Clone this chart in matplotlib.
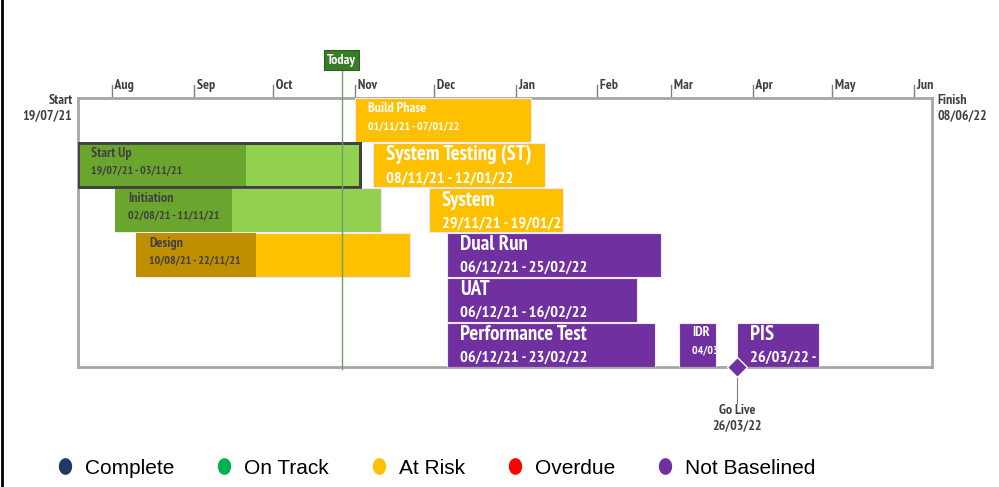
import matplotlib
matplotlib.use("Agg")
import matplotlib.pyplot as plt
import matplotlib.dates as mdates
from matplotlib.lines import Line2D
from matplotlib.path import Path
from datetime import date
import numpy as np

plt.rcParams['font.family'] = ['PT Sans Narrow', 'DejaVu Sans']

# ---- data ----
project_start = date(2021, 7, 19)
project_finish = date(2022, 6, 8)
today = date(2021, 10, 27)

task_names = ["Build Phase", "Start Up", "System Testing (ST)", "Initiation", "System",
              "Design", "Dual Run", "UAT", "Performance Test", "IDR", "PIS"]
task_starts = [date(2021, 11, 1), date(2021, 7, 19), date(2021, 11, 8), date(2021, 8, 2),
               date(2021, 11, 29), date(2021, 8, 10), date(2021, 12, 6), date(2021, 12, 6),
               date(2021, 12, 6), date(2022, 3, 4), date(2022, 3, 26)]
task_ends = [date(2022, 1, 7), date(2021, 11, 3), date(2022, 1, 12), date(2021, 11, 11),
             date(2022, 1, 19), date(2021, 11, 22), date(2022, 2, 25), date(2022, 2, 16),
             date(2022, 2, 23), date(2022, 3, 18), date(2022, 4, 26)]
task_rows = [0, 1, 1, 2, 2, 3, 3, 4, 5, 5, 5]
task_status = ["At Risk", "On Track", "At Risk", "On Track", "At Risk",
               "At Risk", "Not Baselined", "Not Baselined", "Not Baselined", "Not Baselined", "Not Baselined"]
task_progress = [0, 0.595, 0, 0.438, 0, 0.438, 0, 0, 0, 0, 0]
task_big_text = [False, False, True, False, True, False, True, True, True, False, True]

milestone_name = "Go Live"
milestone_date = date(2022, 3, 26)

month_ticks = [date(2021, 8, 1), date(2021, 9, 1), date(2021, 10, 1), date(2021, 11, 1),
               date(2021, 12, 1), date(2022, 1, 1), date(2022, 2, 1), date(2022, 3, 1),
               date(2022, 4, 1), date(2022, 5, 1), date(2022, 6, 1)]

legend_labels = ["Complete", "On Track", "At Risk", "Overdue", "Not Baselined"]

# ---- styles ----
bar_colors = {"On Track": "#92D050", "At Risk": "#FFC000", "Not Baselined": "#7030A0"}
progress_colors = {"On Track": "#6AA62E", "At Risk": "#BF8F00"}
text_colors = {"On Track": "#3F3F3F", "At Risk": "#FFFFFF", "Not Baselined": "#FFFFFF"}
legend_colors = ["#203864", "#00B050", "#FFC000", "#FF0000", "#7030A0"]
frame_color = "#A6A6A6"
today_color = "#387B2A"
dark_text = "#404040"

fig = plt.figure(figsize=(9.99, 4.87), dpi=100)
ax = fig.add_axes([78 / 999, 1 - 367 / 487, 854 / 999, 269 / 487])
ax.set_xlim(mdates.date2num(project_start), mdates.date2num(project_finish))
ax.set_ylim(6, 0)
ax.set_xticks([])
ax.set_yticks([])
for s in ax.spines.values():
    s.set_color(frame_color)
    s.set_linewidth(2)
ax.patch.set_facecolor("white")

# month ticks on top
for m in month_ticks:
    x = mdates.date2num(m)
    ax.plot([x, x], [0, -0.3], color="#808080", lw=1, clip_on=False)
    ax.text(x, -0.13, " " + m.strftime("%b"), ha="left", va="bottom", fontsize=10,
            fontweight="bold", color=dark_text, clip_on=False)

# start / finish labels
ax.annotate("Start\n" + project_start.strftime("%d/%m/%y"), xy=(0, 1), xycoords="axes fraction",
            xytext=(-4, 3), textcoords="offset points", ha="right", va="top", fontsize=10,
            fontweight="bold", color=dark_text, linespacing=1.2)
ax.annotate("Finish\n" + project_finish.strftime("%d/%m/%y"), xy=(1, 1), xycoords="axes fraction",
            xytext=(4, 3), textcoords="offset points", ha="left", va="top", fontsize=10,
            fontweight="bold", color=dark_text, linespacing=1.2)

# bars
for name, s, e, r, st, p, big in zip(task_names, task_starts, task_ends, task_rows,
                                        task_status, task_progress, task_big_text):
    x0 = mdates.date2num(s)
    w = mdates.date2num(e) - x0
    edge = "#404040" if name == "Start Up" else "#F0E8F8"
    lw = 2 if name == "Start Up" else 0.8
    bars = ax.barh(r + 0.5, w, left=x0, height=0.98, color=bar_colors[st],
                   edgecolor=edge, linewidth=lw, zorder=3)
    if p > 0:
        ax.barh(r + 0.5, w * p, left=x0, height=0.98 if name != "Start Up" else 0.94,
                color=progress_colors[st], linewidth=0, zorder=3)
        if name == "Start Up":
            ax.barh(r + 0.5, w, left=x0, height=0.98, facecolor="none",
                    edgecolor=edge, linewidth=lw, zorder=4)
    dates = f"{s:%d/%m/%y} - {e:%d/%m/%y}"
    tcolor = dark_text if st in ("On Track",) or (st == "At Risk" and p > 0) else text_colors[st]
    if big:
        specs = [(name, -12.9, 15), (dates, -28.6, 11.8)]
    else:
        specs = [(name, -10.2, 10), (dates, -22.3, 8.5)]
    for txt, dy, fs in specs:
        t = ax.annotate(txt, xy=(x0, r), xytext=(9.5, dy), textcoords="offset points",
                        ha="left", va="baseline", fontsize=fs, fontweight="bold",
                        color=tcolor, zorder=5)
        t.set_clip_on(True)
        t.set_clip_path(bars[0])

# today marker
tx = mdates.date2num(today)
ax.plot([tx, tx], [-0.68, 6.05], color="#6E9F66", lw=1, clip_on=False, zorder=6)
ax.text(tx, -0.84, "Today", ha="center", va="center", fontsize=10, fontweight="bold",
        color="white", clip_on=False, zorder=7,
        bbox=dict(boxstyle="square,pad=0.25", facecolor=today_color, edgecolor="#2A5E20", lw=0.8))

# milestone
mx = mdates.date2num(milestone_date)
ax.plot([mx, mx], [6, 6.8], color="#808080", lw=0.8, clip_on=False, zorder=5)
ax.plot([mx], [6], marker="D", markersize=10, color="#7030A0", markeredgecolor="white",
        markeredgewidth=1, clip_on=False, zorder=8)
ax.annotate(f"{milestone_name}\n{milestone_date:%d/%m/%y}", xy=(mx, 6.8),
            xytext=(0, -1), textcoords="offset points", ha="center", va="top", fontsize=10,
            fontweight="bold", color=dark_text, linespacing=1.2, annotation_clip=False)

# legend
theta = np.linspace(0, 2 * np.pi, 40)
oval = Path(np.column_stack([0.8 * np.cos(theta), np.sin(theta)]))
handles = [Line2D([], [], linestyle="none", marker=oval, markersize=12, color=c,
                  markeredgewidth=0) for c in legend_colors]
leg = fig.legend(handles, legend_labels, loc="center left", bbox_to_anchor=(38 / 999, 1 - 468 / 487),
                 ncol=5, frameon=False, handlelength=0.8, handletextpad=0.55,
                 columnspacing=2.0, prop={"family": ["Liberation Sans", "DejaVu Sans"], "size": 15})
fig.add_artist(Line2D([1.5 / 999, 1.5 / 999], [0, 1], color="black", lw=2))

fig.savefig("out.png", dpi=100)
